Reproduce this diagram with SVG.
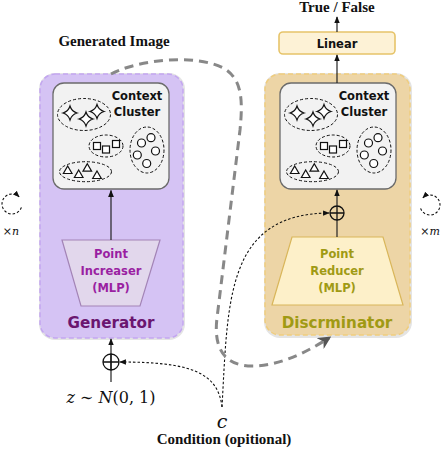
<svg xmlns="http://www.w3.org/2000/svg" xmlns:xlink="http://www.w3.org/1999/xlink" width="442" height="450" viewBox="0 0 442 450">
<style>
.sans{font-family:"DejaVu Sans","Verdana",sans-serif;font-weight:bold;text-anchor:middle}
.serifb{font-family:"Liberation Serif","Times New Roman",serif;font-weight:bold;text-anchor:middle}
.math{font-family:"DejaVu Serif","Liberation Serif",serif;font-style:italic}
.ell{fill:none;stroke:#111;stroke-width:1;stroke-dasharray:3 2}
.shp{fill:#fff;stroke:#111;stroke-width:1.2}
.dot{fill:none;stroke:#111;stroke-width:1.1;stroke-dasharray:2.5 2}
.arr{fill:none;stroke:#222;stroke-width:1.2}
.plus{fill:none;stroke:#111;stroke-width:1.3}
.shadow{fill:#e4e4e4}
</style>
<defs>
<marker id="ah" viewBox="0 0 10 10" refX="9" refY="5" markerWidth="6" markerHeight="6" orient="auto-start-reverse"><path d="M0,1 L10,5 L0,9 z" fill="#111"/></marker>
<marker id="ahg" viewBox="0 0 10 10" refX="8" refY="5" markerUnits="userSpaceOnUse" markerWidth="13" markerHeight="13" orient="auto"><path d="M0,0 L10,5 L0,10 L3,5 z" fill="#555"/></marker>
<path id="star" d="M0,-7 Q1.6,-1.6 7,0 Q1.6,1.6 0,7 Q-1.6,1.6 -7,0 Q-1.6,-1.6 0,-7 z"/>
<g id="cluster">
<rect x="53" y="83" width="116" height="106" rx="11" fill="#f2f2f2" stroke="#6b6b6b" stroke-width="1.3"/>
<text class="sans" x="137" y="100" font-size="11.5" fill="#111">Context</text>
<text class="sans" x="137" y="116" font-size="11.5" fill="#111">Cluster</text>
<ellipse class="ell" cx="84" cy="114.5" rx="26.5" ry="16"/>
<use xlink:href="#star" class="shp" x="70" y="113"/>
<use xlink:href="#star" class="shp" x="86" y="119"/>
<use xlink:href="#star" class="shp" x="97" y="111.5"/>
<ellipse class="ell" cx="106" cy="146" rx="17" ry="11"/>
<rect class="shp" x="93.5" y="142.5" width="7" height="7"/>
<rect class="shp" x="102.5" y="146" width="7" height="7"/>
<rect class="shp" x="112.5" y="140.5" width="7" height="7"/>
<ellipse class="ell" cx="147" cy="150" rx="17" ry="23"/>
<circle class="shp" cx="141.5" cy="143" r="4"/>
<circle class="shp" cx="151" cy="137.7" r="4"/>
<circle class="shp" cx="155.5" cy="151" r="4"/>
<circle class="shp" cx="137.3" cy="155" r="4"/>
<circle class="shp" cx="146.7" cy="163.5" r="4"/>
<ellipse class="ell" cx="85.5" cy="171.7" rx="26" ry="10"/>
<path class="shp" d="M67.7,166 L72,173.5 L63.4,173.5 z"/>
<path class="shp" d="M78.7,170 L83,177.5 L74.4,177.5 z"/>
<path class="shp" d="M87.3,163.7 L91.6,171.2 L83,171.2 z"/>
<path class="shp" d="M97,171 L101.3,178.5 L92.7,178.5 z"/>
</g>
</defs>

<rect width="442" height="450" fill="#fff"/>

<g id="generator">
<rect class="shadow" x="39" y="73" width="146" height="267" rx="16"/>
<rect x="40" y="74" width="143" height="264" rx="15" fill="#d5c3f4" stroke="#c3a6f0" stroke-width="1.5" stroke-dasharray="5 3"/>
<use xlink:href="#cluster"/>
<path d="M62,240 L160,240 L140,306 L81,306 z" fill="#e2d7ec" stroke="#a384b6" stroke-width="1.2"/>
<text class="sans" x="111" y="258" font-size="11.5" fill="#9a1fa2">Point</text>
<text class="sans" x="111" y="275" font-size="11.5" fill="#9a1fa2">Increaser</text>
<text class="sans" x="111" y="292" font-size="11.5" fill="#9a1fa2">(MLP)</text>
<text class="sans" x="111" y="327.5" font-size="15.2" fill="#6b1670">Generator</text>
</g>

<g id="discriminator">
<rect class="shadow" x="264" y="73" width="148" height="265" rx="16"/>
<rect x="265" y="74" width="145" height="261" rx="15" fill="#edd5a6" stroke="#efcd7e" stroke-width="1.5" stroke-dasharray="5 3"/>
<use xlink:href="#cluster" transform="translate(227,0)"/>
<path d="M292,237 L383,237 L403,305 L272,305 z" fill="#fdf0c9" stroke="#d9b65a" stroke-width="1.2"/>
<text class="sans" x="337" y="258" font-size="11.5" fill="#a09a14">Point</text>
<text class="sans" x="337" y="275" font-size="11.5" fill="#a09a14">Reducer</text>
<text class="sans" x="337" y="292" font-size="11.5" fill="#a09a14">(MLP)</text>
<text class="sans" x="337" y="327.5" font-size="15.2" fill="#a09a14">Discrminator</text>
</g>

<g id="linear">
<rect x="279" y="32" width="116" height="22" rx="4" fill="#fdf2d6" stroke="#e6c46a" stroke-width="1.6"/>
<text class="sans" x="337" y="47.5" font-size="11.5" fill="#111">Linear</text>
</g>

<g id="labels">
<text class="serifb" x="337" y="11.5" font-size="15" fill="#111">True / False</text>
<text class="serifb" x="114" y="45.5" font-size="15" fill="#111">Generated Image</text>
<text class="math" x="111" y="403" font-size="16" text-anchor="middle" fill="#111">z<tspan font-style="normal"> ∼ </tspan>N<tspan font-style="normal">(0, 1)</tspan></text>
<text class="math" x="222" y="428" font-size="19" text-anchor="middle" fill="#111">c</text>
<text class="serifb" x="224" y="444" font-size="15" fill="#111">Condition (opitional)</text>
<text class="math" x="11" y="235" font-size="11" text-anchor="middle" fill="#111"><tspan font-style="normal">×</tspan>n</text>
<text class="math" x="430" y="235" font-size="11" text-anchor="middle" fill="#111"><tspan font-style="normal">×</tspan>m</text>
</g>

<g id="connectors">
<path class="arr" d="M111,240 L111,190.5" marker-end="url(#ah)"/>
<path class="arr" d="M111,382 L111,339" marker-end="url(#ah)"/>
<circle class="plus" cx="111" cy="362" r="8"/>
<path class="plus" d="M103,362 L119,362 M111,354 L111,370"/>
<path class="arr" d="M337,237 L337,220"/>
<circle class="plus" cx="337" cy="213" r="7"/>
<path class="plus" d="M330,213 L344,213 M337,206 L337,220"/>
<path class="arr" d="M337,206 L337,190" marker-end="url(#ah)"/>
<path class="arr" d="M337,83 L337,55" marker-end="url(#ah)"/>
<path class="arr" d="M337,32 L337,17" marker-end="url(#ah)"/>
<path class="dot" d="M222,407 C218,372 190,362 120,362" marker-end="url(#ah)"/>
<path class="dot" d="M222,407 C228,300 226,214 329,213" marker-end="url(#ah)"/>
<path d="M111,74 C135,61 195,52 225,69 C242,80 243,100 240,130 L217,318 C213,350 226,366 252,366 C277,366 302,355 329,338" fill="none" stroke="#888" stroke-width="3" stroke-dasharray="9 6" marker-end="url(#ahg)"/>
<path class="dot" d="M21.4,207.4 A10,10 0 1 1 19.1,196.9" marker-end="url(#ah)"/>
<path class="dot" d="M420.6,208.4 A10,10 0 1 0 422.9,197.9" marker-end="url(#ah)"/>
</g>
</svg>
